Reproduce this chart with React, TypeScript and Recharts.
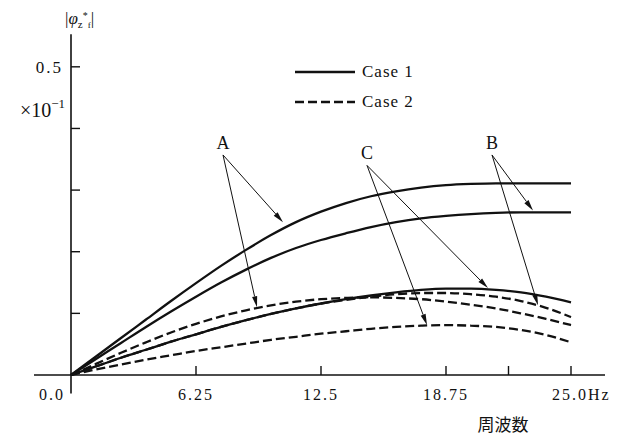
import React from 'react';
import {
  LineChart,
  Line,
  XAxis,
  YAxis,
  Legend,
  ReferenceLine,
  ReferenceDot,
} from 'recharts';

// frequency samples (Hz)
const freq = [0, 1.25, 2.5, 3.75, 5, 6.25, 7.5, 8.75, 10, 11.25, 12.5, 13.75, 15, 16.25, 17.5, 18.75, 20, 21.25, 22.5, 23.75, 25];

// Case 1 (solid)
const case1A = [0, 0.03, 0.06, 0.09, 0.12, 0.149, 0.177, 0.203, 0.227, 0.248, 0.265, 0.279, 0.29, 0.298, 0.304, 0.308, 0.31, 0.311, 0.311, 0.311, 0.311];
const case1B = [0, 0.026, 0.052, 0.078, 0.103, 0.127, 0.15, 0.171, 0.19, 0.206, 0.219, 0.23, 0.24, 0.248, 0.254, 0.258, 0.261, 0.263, 0.264, 0.264, 0.264];
const case1C = [0, 0.014, 0.028, 0.041, 0.054, 0.066, 0.078, 0.089, 0.099, 0.108, 0.116, 0.123, 0.129, 0.134, 0.138, 0.14, 0.14, 0.138, 0.134, 0.127, 0.118];

// Case 2 (dashed)
const case2A = [0, 0.018, 0.036, 0.053, 0.069, 0.083, 0.095, 0.105, 0.113, 0.119, 0.123, 0.125, 0.126, 0.125, 0.123, 0.119, 0.114, 0.108, 0.1, 0.091, 0.081];
const case2B = [0, 0.014, 0.028, 0.041, 0.054, 0.066, 0.078, 0.089, 0.099, 0.108, 0.116, 0.122, 0.127, 0.131, 0.133, 0.133, 0.131, 0.127, 0.12, 0.109, 0.094];
const case2C = [0, 0.009, 0.017, 0.025, 0.032, 0.039, 0.045, 0.051, 0.057, 0.062, 0.067, 0.071, 0.075, 0.078, 0.08, 0.081, 0.08, 0.078, 0.073, 0.065, 0.053];

const xTicks = [0, 6.25, 12.5, 18.75, 21.875, 25];
const xTickLabels = ['0.0', '6.25', '12.5', '18.75', '', '25.0Hz'];
const yTicks = [0.1, 0.2, 0.3, 0.4, 0.5];

const legendItems = [
  { name: 'Case 1', dash: undefined },
  { name: 'Case 2', dash: '9 4' },
];

// annotation: label position, arrow start, arrow targets (data coords)
const notes = [
  { label: 'A', at: [7.6, 0.376], from: [7.6, 0.357], to: [[10.6, 0.248], [9.3, 0.11]] },
  { label: 'B', at: [21.05, 0.376], from: [21.05, 0.357], to: [[23.1, 0.267], [23.35, 0.113]] },
  { label: 'C', at: [14.8, 0.36], from: [14.8, 0.34], to: [[20.85, 0.141], [17.8, 0.081]] },
];

const data = freq.map((f, i) => ({
  f,
  a1: case1A[i],
  b1: case1B[i],
  c1: case1C[i],
  a2: case2A[i],
  b2: case2B[i],
  c2: case2C[i],
}));

const ink = '#111';
const serif = '"Liberation Serif", "DejaVu Serif", serif';

const XTick = (props: any) => {
  const { x, y, payload } = props;
  const v = payload.value;
  const label = xTickLabels[xTicks.indexOf(v)];
  const anchor = v === 0 ? 'end' : v === 25 ? 'start' : 'middle';
  const tx = v === 0 ? x - 6 : v === 25 ? x - 19 : x;
  return (
    <g>
      {v !== 0 && <line x1={x} y1={y} x2={x} y2={y - 9} stroke={ink} strokeWidth={1.4} />}
      {label && (
        <text x={tx} y={y + 25} textAnchor={anchor} fontFamily={serif} fontSize={16} letterSpacing={2} fill={ink}>
          {label}
        </text>
      )}
    </g>
  );
};

const YTick = (props: any) => {
  const { x, y, payload } = props;
  const v = payload.value;
  return (
    <g>
      <line x1={x} y1={y} x2={x + 9} y2={y} stroke={ink} strokeWidth={1.4} />
      {v === 0.5 && (
        <>
          <text x={x - 8} y={y + 6} textAnchor="end" fontFamily={serif} fontSize={17} letterSpacing={2} fill={ink}>
            0.5
          </text>
          <text x={x - 6} y={y + 50} textAnchor="end" fontFamily={serif} fontSize={20} fill={ink}>
            ×10<tspan fontSize={13} dy={-9}>−1</tspan>
          </text>
        </>
      )}
    </g>
  );
};

const YTitle = (props: any) => {
  const vb = props.viewBox;
  const x = vb.x + vb.width - 6;
  const y = vb.y - 12;
  return (
    <text x={x} y={y} fontFamily={serif} fontSize={17} fill={ink}>
      |<tspan fontStyle="italic">φ</tspan>
      <tspan fontSize={11} dy={4}>z</tspan>
      <tspan fontSize={10} dy={-9}>*</tspan>
      <tspan fontSize={9} dy={9}>f</tspan>
      <tspan fontSize={17} dy={-4}>|</tspan>
    </text>
  );
};

const XTitle = (props: any) => {
  const vb = props.viewBox;
  return (
    <text x={vb.x + 432} y={vb.y + 56} textAnchor="middle" fontFamily='"Noto Sans CJK JP", sans-serif' fontSize={17} fill={ink}>
      周波数
    </text>
  );
};

const Arrow = (props: any) => {
  const { x1, y1, x2, y2 } = props;
  const dx = x2 - x1;
  const dy = y2 - y1;
  const len = Math.sqrt(dx * dx + dy * dy) || 1;
  const ux = dx / len;
  const uy = dy / len;
  const hl = 11;
  const hw = 2.6;
  const bx = x2 - ux * hl;
  const by = y2 - uy * hl;
  return (
    <g>
      <line x1={x1} y1={y1} x2={bx} y2={by} stroke={ink} strokeWidth={1} />
      <polygon
        points={`${x2},${y2} ${bx - uy * hw},${by + ux * hw} ${bx + uy * hw},${by - ux * hw}`}
        fill={ink}
      />
    </g>
  );
};

const LegendBox = () => (
  <div style={{ fontFamily: serif, fontSize: 17, color: ink }}>
    {legendItems.map((it) => (
      <div key={it.name} style={{ display: 'flex', alignItems: 'center', height: 30 }}>
        <svg width={60} height={30}>
          <line x1={0} y1={15} x2={60} y2={15} stroke={ink} strokeWidth={2.4} strokeDasharray={it.dash} />
        </svg>
        <span style={{ marginLeft: 7, letterSpacing: 1 }}>{it.name}</span>
      </div>
    ))}
  </div>
);

const lineProps = {
  type: 'monotone' as const,
  stroke: ink,
  strokeWidth: 2.3,
  dot: false,
  activeDot: false,
  isAnimationActive: false,
  legendType: 'none' as const,
};

export default function App() {
  return (
    <div style={{ position: 'absolute', left: 0, top: 0, width: 618, height: 438, background: '#fff' }}>
      <LineChart width={618} height={438} data={data} margin={{ top: 36, right: 47, bottom: 33, left: 11 }}>
        <XAxis
          dataKey="f"
          type="number"
          domain={[0, 25]}
          ticks={xTicks}
          interval={0}
          tickSize={0}
          tickMargin={0}
          axisLine={false}
          tick={<XTick />}
          label={{ content: <XTitle /> }}
        />
        <YAxis
          type="number"
          domain={[0, 0.55]}
          ticks={yTicks}
          interval={0}
          tickSize={0}
          tickMargin={0}
          axisLine={false}
          tick={<YTick />}
          label={{ content: <YTitle /> }}
        />
        <ReferenceLine
          segment={[{ x: -1.85, y: 0 }, { x: 26.7, y: 0 }]}
          stroke={ink}
          strokeWidth={1.6}
          ifOverflow="visible"
        />
        <ReferenceLine
          segment={[{ x: 0, y: -0.03 }, { x: 0, y: 0.553 }]}
          stroke={ink}
          strokeWidth={1.6}
          ifOverflow="visible"
        />
        <Line dataKey="a1" {...lineProps} />
        <Line dataKey="b1" {...lineProps} />
        <Line dataKey="c1" {...lineProps} />
        <Line dataKey="a2" {...lineProps} strokeDasharray="9 4" />
        <Line dataKey="b2" {...lineProps} strokeDasharray="9 4" />
        <Line dataKey="c2" {...lineProps} strokeDasharray="9 4" />
        {notes.map((n) =>
          n.to.map((t, j) => (
            <ReferenceLine
              key={n.label + j}
              segment={[{ x: n.from[0], y: n.from[1] }, { x: t[0], y: t[1] }]}
              ifOverflow="visible"
              shape={<Arrow />}
            />
          ))
        )}
        {notes.map((n) => (
          <ReferenceDot
            key={n.label}
            x={n.at[0]}
            y={n.at[1]}
            r={0}
            ifOverflow="visible"
            shape={(p: any) => (
              <text x={p.cx} y={p.cy + 6} textAnchor="middle" fontFamily={serif} fontSize={18} fill={ink}>
                {n.label}
              </text>
            )}
          />
        ))}
        <Legend
          layout="vertical"
          align="center"
          verticalAlign="middle"
          content={<LegendBox />}
          wrapperStyle={{ left: 295, top: 57, width: 150 }}
        />
      </LineChart>
    </div>
  );
}
